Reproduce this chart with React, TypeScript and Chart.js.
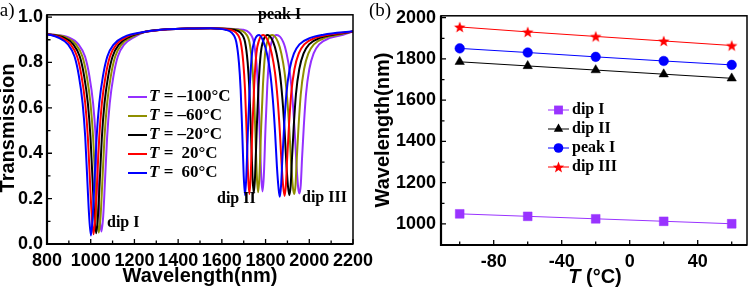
import { useEffect, useRef } from 'react';
import { Chart, registerables } from 'chart.js';

Chart.register(...registerables);

const SANS = '"Liberation Sans", Arial, sans-serif';
const SERIF = '"Liberation Serif", "Times New Roman", serif';

// (a) Transmission spectra: [wavelength (nm), transmission]
const spectrumM100: [number, number][] = [
  [800, 0.925], [899, 0.91], [944, 0.88], [974, 0.826], [994, 0.74], [1011, 0.62],
  [1023, 0.47], [1033, 0.27], [1041, 0.12], [1049, 0.055], [1057, 0.12], [1065, 0.27],
  [1075, 0.47], [1087, 0.62], [1104, 0.74], [1124, 0.826], [1154, 0.88], [1199, 0.912],
  [1250, 0.935], [1350, 0.946], [1450, 0.95], [1550, 0.951], [1696, 0.944], [1726, 0.93],
  [1746, 0.89], [1758, 0.8], [1766, 0.68], [1773, 0.5], [1780, 0.3], [1786, 0.232],
  [1792, 0.3], [1800, 0.52], [1808, 0.7], [1818, 0.84], [1831, 0.9], [1851, 0.921],
  [1881, 0.89], [1896, 0.84], [1911, 0.756], [1923, 0.64], [1933, 0.5], [1942, 0.34],
  [1949, 0.25], [1955, 0.223], [1961, 0.26], [1967, 0.38], [1975, 0.52], [1985, 0.66],
  [2000, 0.77], [2020, 0.84], [2045, 0.88], [2095, 0.908], [2155, 0.922], [2200, 0.937],
];
const spectrumM60: [number, number][] = [
  [800, 0.925], [887, 0.91], [932, 0.88], [962, 0.826], [982, 0.74], [999, 0.62],
  [1011, 0.47], [1021, 0.27], [1029, 0.12], [1037, 0.05], [1045, 0.12], [1053, 0.27],
  [1063, 0.47], [1075, 0.62], [1092, 0.74], [1112, 0.826], [1142, 0.88], [1187, 0.912],
  [1250, 0.935], [1350, 0.946], [1450, 0.95], [1550, 0.951], [1676, 0.944], [1706, 0.93],
  [1726, 0.89], [1738, 0.8], [1746, 0.68], [1753, 0.5], [1760, 0.3], [1766, 0.228],
  [1772, 0.3], [1780, 0.52], [1788, 0.7], [1798, 0.84], [1811, 0.9], [1831, 0.921],
  [1857, 0.89], [1872, 0.84], [1887, 0.756], [1899, 0.64], [1909, 0.5], [1918, 0.34],
  [1925, 0.25], [1931, 0.22], [1937, 0.26], [1943, 0.38], [1951, 0.52], [1961, 0.66],
  [1976, 0.77], [1996, 0.84], [2021, 0.88], [2071, 0.908], [2131, 0.922], [2200, 0.937],
];
const spectrumM20: [number, number][] = [
  [800, 0.925], [875, 0.91], [920, 0.88], [950, 0.826], [970, 0.74], [987, 0.62],
  [999, 0.47], [1009, 0.27], [1017, 0.12], [1025, 0.047], [1033, 0.12], [1041, 0.27],
  [1051, 0.47], [1063, 0.62], [1080, 0.74], [1100, 0.826], [1130, 0.88], [1175, 0.912],
  [1250, 0.935], [1350, 0.946], [1450, 0.95], [1550, 0.951], [1656, 0.944], [1686, 0.93],
  [1706, 0.89], [1718, 0.8], [1726, 0.68], [1733, 0.5], [1740, 0.3], [1746, 0.224],
  [1752, 0.3], [1760, 0.52], [1768, 0.7], [1778, 0.84], [1791, 0.9], [1810, 0.921],
  [1835, 0.89], [1850, 0.84], [1865, 0.756], [1877, 0.64], [1887, 0.5], [1896, 0.34],
  [1903, 0.25], [1909, 0.215], [1915, 0.26], [1921, 0.38], [1929, 0.52], [1939, 0.66],
  [1954, 0.77], [1974, 0.84], [1999, 0.88], [2049, 0.908], [2109, 0.922], [2200, 0.937],
];
const spectrumP20: [number, number][] = [
  [800, 0.925], [863, 0.91], [908, 0.88], [938, 0.826], [958, 0.74], [975, 0.62],
  [987, 0.47], [997, 0.27], [1005, 0.12], [1013, 0.043], [1021, 0.12], [1029, 0.27],
  [1039, 0.47], [1051, 0.62], [1068, 0.74], [1088, 0.826], [1118, 0.88], [1163, 0.912],
  [1250, 0.935], [1350, 0.946], [1450, 0.95], [1550, 0.951], [1636, 0.944], [1666, 0.93],
  [1686, 0.89], [1698, 0.8], [1706, 0.68], [1713, 0.5], [1720, 0.3], [1726, 0.22],
  [1732, 0.3], [1740, 0.52], [1748, 0.7], [1758, 0.84], [1771, 0.9], [1790, 0.921],
  [1813, 0.89], [1828, 0.84], [1843, 0.756], [1855, 0.64], [1865, 0.5], [1874, 0.34],
  [1881, 0.25], [1887, 0.212], [1893, 0.26], [1899, 0.38], [1907, 0.52], [1917, 0.66],
  [1932, 0.77], [1952, 0.84], [1977, 0.88], [2027, 0.908], [2087, 0.922], [2200, 0.937],
];
const spectrumP60: [number, number][] = [
  [800, 0.925], [851, 0.91], [896, 0.88], [926, 0.826], [946, 0.74], [963, 0.62],
  [975, 0.47], [985, 0.27], [993, 0.12], [1001, 0.038], [1009, 0.12], [1017, 0.27],
  [1027, 0.47], [1039, 0.62], [1056, 0.74], [1076, 0.826], [1106, 0.88], [1151, 0.912],
  [1250, 0.935], [1350, 0.946], [1450, 0.95], [1550, 0.951], [1616, 0.944], [1646, 0.93],
  [1666, 0.89], [1678, 0.8], [1686, 0.68], [1693, 0.5], [1700, 0.3], [1706, 0.215],
  [1712, 0.3], [1720, 0.52], [1728, 0.7], [1738, 0.84], [1751, 0.9], [1771, 0.921],
  [1791, 0.89], [1806, 0.84], [1821, 0.756], [1833, 0.64], [1843, 0.5], [1852, 0.34],
  [1859, 0.25], [1865, 0.208], [1871, 0.26], [1877, 0.38], [1885, 0.52], [1895, 0.66],
  [1910, 0.77], [1930, 0.84], [1955, 0.88], [2005, 0.908], [2065, 0.922], [2200, 0.937],
];

const spectrumTemps = ['\u2013100', '\u201360', '\u201320', '20', '60'];
const spectrumColors = ['#9430ff', '#8f8f00', '#000000', '#ff0000', '#0000ff'];
const spectra = [spectrumM100, spectrumM60, spectrumM20, spectrumP20, spectrumP60];

// (b) Resonance wavelength (nm) versus temperature (°C)
const temperatures = [-100, -60, -20, 20, 60];
const dipI = [1049, 1037, 1025, 1013, 1001];
const dipII = [1786, 1766, 1746, 1726, 1706];
const peakI = [1851, 1831, 1810, 1790, 1771];
const dipIII = [1955, 1931, 1909, 1887, 1865];
const trackLabels = ['dip I', 'dip II', 'peak I', 'dip III'];
const trackColors = ['#9933ff', '#000000', '#0000ff', '#ff0000'];

function makeStar(color: string, r: number): HTMLCanvasElement {
  const size = Math.ceil(r * 2 + 2);
  const c = document.createElement('canvas');
  c.width = size;
  c.height = size;
  const g = c.getContext('2d')!;
  drawStar(g, size / 2, size / 2 + r * 0.1, r, color);
  return c;
}

function drawStar(g: CanvasRenderingContext2D, cx: number, cy: number, r: number, color: string) {
  const inner = r * 0.42;
  g.beginPath();
  for (let i = 0; i < 10; i++) {
    const rad = i % 2 === 0 ? r : inner;
    const a = -Math.PI / 2 + (i * Math.PI) / 5;
    const px = cx + rad * Math.cos(a);
    const py = cy + rad * Math.sin(a);
    if (i === 0) g.moveTo(px, py);
    else g.lineTo(px, py);
  }
  g.closePath();
  g.fillStyle = color;
  g.fill();
}

function drawMarker(g: CanvasRenderingContext2D, kind: number, x: number, y: number, color: string) {
  g.fillStyle = color;
  if (kind === 0) {
    g.fillRect(x - 4.4, y - 4.4, 8.8, 8.8);
  } else if (kind === 1) {
    g.beginPath();
    g.moveTo(x, y - 5.4);
    g.lineTo(x + 4.7, y + 2.7);
    g.lineTo(x - 4.7, y + 2.7);
    g.closePath();
    g.fill();
  } else if (kind === 2) {
    g.beginPath();
    g.arc(x, y, 4.8, 0, Math.PI * 2);
    g.fill();
  } else {
    drawStar(g, x, y + 0.6, 6, color);
  }
}

function drawFrame(chart: any, xMajor: number[], xMinor: number[], yMajor: number[], yMinor: number[]) {
  const { ctx, chartArea: a, scales } = chart;
  ctx.save();
  ctx.strokeStyle = '#000';
  ctx.lineWidth = 1.3;
  ctx.beginPath();
  const xs = (vals: number[], len: number) =>
    vals.forEach((v) => {
      const px = scales.x.getPixelForValue(v);
      ctx.moveTo(px, a.bottom);
      ctx.lineTo(px, a.bottom - len);
    });
  const ys = (vals: number[], len: number) =>
    vals.forEach((v) => {
      const py = scales.y.getPixelForValue(v);
      ctx.moveTo(a.left, py);
      ctx.lineTo(a.left + len, py);
    });
  xs(xMajor, 5);
  xs(xMinor, 3.5);
  ys(yMajor, 5);
  ys(yMinor, 3.5);
  ctx.stroke();
  ctx.lineWidth = 1.5;
  ctx.strokeRect(a.left, a.top, a.right - a.left, a.bottom - a.top);
  ctx.lineWidth = 2.2;
  ctx.beginPath();
  ctx.moveTo(a.left, a.top);
  ctx.lineTo(a.left, a.bottom);
  ctx.lineTo(a.right, a.bottom);
  ctx.stroke();
  ctx.restore();
}

function range(from: number, to: number, step: number): number[] {
  const out: number[] = [];
  for (let v = from; v <= to + 1e-9; v += step) out.push(Math.round(v * 1000) / 1000);
  return out;
}

const spectraDecor = {
  id: 'spectraDecor',
  afterDatasetsDraw(chart: any) {
    const { ctx } = chart;
    drawFrame(chart, range(1000, 2200, 200), range(900, 2100, 200), range(0.2, 1.0, 0.2), range(0.1, 0.9, 0.2));
    ctx.save();
    ctx.fillStyle = '#000';
    // panel label
    ctx.font = `19px ${SERIF}`;
    ctx.textBaseline = 'alphabetic';
    ctx.textAlign = 'left';
    ctx.fillText('(a)', -6.5, 16);
    // axis titles
    ctx.font = `bold 20px ${SANS}`;
    ctx.textAlign = 'center';
    ctx.fillText('Wavelength(nm)', 200, 282);
    ctx.save();
    ctx.translate(14, 128);
    ctx.rotate(-Math.PI / 2);
    ctx.fillText('Transmission', 0, 0);
    ctx.restore();
    // legend
    ctx.textBaseline = 'middle';
    ctx.textAlign = 'left';
    spectrumTemps.forEach((t, i) => {
      const y = 97 + i * 19;
      ctx.strokeStyle = spectrumColors[i];
      ctx.lineWidth = 2;
      ctx.beginPath();
      ctx.moveTo(128, y);
      ctx.lineTo(147, y);
      ctx.stroke();
      let x = 149;
      ctx.font = `italic bold 17px ${SERIF}`;
      ctx.fillText('T', x, y);
      x += ctx.measureText('T').width;
      ctx.font = `bold 17px ${SERIF}`;
      ctx.fillText(' = ', x, y);
      x += ctx.measureText(' = ').width;
      if (!t.startsWith('\u2013')) x += 4;
      ctx.fillText(`${t}\u00b0C`, x, y);
    });
    // feature labels
    ctx.font = `bold 16px ${SERIF}`;
    ctx.fillText('peak I', 258, 15);
    ctx.fillText('dip I', 107, 223);
    ctx.fillText('dip II', 217, 199);
    ctx.fillText('dip III', 302, 198);
    ctx.restore();
  },
};

const trackDecor = {
  id: 'trackDecor',
  afterDatasetsDraw(chart: any) {
    const { ctx } = chart;
    drawFrame(chart, range(-80, 40, 40), range(-100, 60, 40), range(1000, 2000, 200), range(1100, 1900, 200));
    ctx.save();
    ctx.fillStyle = '#000';
    ctx.font = `19px ${SERIF}`;
    ctx.textBaseline = 'alphabetic';
    ctx.textAlign = 'left';
    ctx.fillText('(b)', 9, 16);
    // x title with italic T
    ctx.font = `italic bold 20px ${SANS}`;
    const wT = ctx.measureText('T').width;
    ctx.font = `bold 20px ${SANS}`;
    const rest = ' (\u00b0C)';
    const wR = ctx.measureText(rest).width;
    const x0 = 235 - (wT + wR) / 2;
    ctx.font = `italic bold 20px ${SANS}`;
    ctx.fillText('T', x0, 283);
    ctx.font = `bold 20px ${SANS}`;
    ctx.fillText(rest, x0 + wT, 283);
    // y title
    ctx.textAlign = 'center';
    ctx.save();
    ctx.translate(29, 130);
    ctx.rotate(-Math.PI / 2);
    ctx.fillText('Wavelength(nm)', 0, 0);
    ctx.restore();
    // legend
    ctx.textAlign = 'left';
    ctx.textBaseline = 'middle';
    trackLabels.forEach((label, i) => {
      const y = 110 + i * 19;
      ctx.strokeStyle = trackColors[i];
      ctx.lineWidth = 1;
      ctx.beginPath();
      ctx.moveTo(188, y);
      ctx.lineTo(209, y);
      ctx.stroke();
      drawMarker(ctx, i, 198.5, y, trackColors[i]);
      ctx.fillStyle = '#000';
      ctx.font = `bold 16px ${SERIF}`;
      ctx.fillText(label, 212, y);
    });
    ctx.restore();
  },
};

const tickFont = { family: SANS, size: 18, weight: 'bold' as const };

export default function App() {
  const refA = useRef<HTMLCanvasElement>(null);
  const refB = useRef<HTMLCanvasElement>(null);

  useEffect(() => {
    const chartA = new Chart(refA.current!, {
      type: 'line',
      data: {
        datasets: spectra.map((s, i) => ({
          label: `T = ${spectrumTemps[i]}\u00b0C`,
          data: s.map(([x, y]) => ({ x, y })),
          borderColor: spectrumColors[i],
          borderWidth: 2,
          pointRadius: 0,
          cubicInterpolationMode: 'monotone' as const,
          fill: false,
          order: spectra.length - 1 - i,
        })),
      },
      options: {
        responsive: false,
        animation: false,
        events: [],
        layout: { padding: { left: 0, right: 27, top: 5, bottom: 0 }, autoPadding: false },
        plugins: { legend: { display: false }, tooltip: { enabled: false } },
        scales: {
          x: {
            type: 'linear',
            min: 800,
            max: 2200,
            grid: { display: false, drawTicks: false },
            border: { display: false },
            ticks: {
              stepSize: 200,
              autoSkip: false,
              maxRotation: 0,
              minRotation: 0,
              includeBounds: false,
              padding: 6,
              color: '#000',
              font: tickFont,
              callback: (v: any) => String(v),
            },
            afterFit: (s: any) => {
              s.height = 48;
            },
          },
          y: {
            type: 'linear',
            min: 0,
            max: 1.01,
            grid: { display: false, drawTicks: false },
            border: { display: false },
            ticks: {
              stepSize: 0.2,
              includeBounds: false,
              autoSkip: false,
              padding: 4,
              color: '#000',
              font: tickFont,
              callback: (v: any) => Number(v).toFixed(1),
            },
            afterFit: (s: any) => {
              s.width = 47;
            },
          },
        },
      },
      plugins: [spectraDecor],
    });

    const star = makeStar(trackColors[3], 6);
    const tracks = [dipI, dipII, peakI, dipIII];
    const styles: any[] = ['rect', 'triangle', 'circle', star];
    const radii = [6.2, 5.4, 4.8, 6];
    const chartB = new Chart(refB.current!, {
      type: 'line',
      data: {
        datasets: tracks.map((vals, i) => ({
          label: trackLabels[i],
          data: temperatures.map((t, j) => ({ x: t, y: vals[j] })),
          borderColor: trackColors[i],
          backgroundColor: trackColors[i],
          borderWidth: 1,
          pointStyle: styles[i],
          pointRadius: radii[i],
          pointBackgroundColor: trackColors[i],
          pointBorderColor: trackColors[i],
          pointBorderWidth: 0.5,
          tension: 0,
          fill: false,
        })),
      },
      options: {
        responsive: false,
        animation: false,
        events: [],
        layout: { padding: { left: 0, right: 3, top: 5, bottom: 0 }, autoPadding: false },
        plugins: { legend: { display: false }, tooltip: { enabled: false } },
        scales: {
          x: {
            type: 'linear',
            min: -111,
            max: 69,
            grid: { display: false, drawTicks: false },
            border: { display: false },
            ticks: {
              stepSize: 40,
              autoSkip: false,
              maxRotation: 0,
              minRotation: 0,
              includeBounds: false,
              padding: 6,
              color: '#000',
              font: tickFont,
              callback: (v: any) => String(v),
            },
            afterFit: (s: any) => {
              s.height = 47;
            },
          },
          y: {
            type: 'linear',
            min: 898,
            max: 2009,
            grid: { display: false, drawTicks: false },
            border: { display: false },
            ticks: {
              stepSize: 200,
              includeBounds: false,
              autoSkip: false,
              padding: 5,
              color: '#000',
              font: tickFont,
              callback: (v: any) => String(v),
            },
            afterFit: (s: any) => {
              s.width = 81;
            },
          },
        },
      },
      plugins: [trackDecor],
    });

    return () => {
      chartA.destroy();
      chartB.destroy();
    };
  }, []);

  return (
    <div style={{ position: 'absolute', left: 0, top: 0, width: 750, height: 292, background: '#fff' }}>
      <canvas
        ref={refA}
        width={380}
        height={292}
        style={{ position: 'absolute', left: 0, top: 0, width: 380, height: 292 }}
      />
      <canvas
        ref={refB}
        width={390}
        height={292}
        style={{ position: 'absolute', left: 360, top: 0, width: 390, height: 292 }}
      />
    </div>
  );
}
